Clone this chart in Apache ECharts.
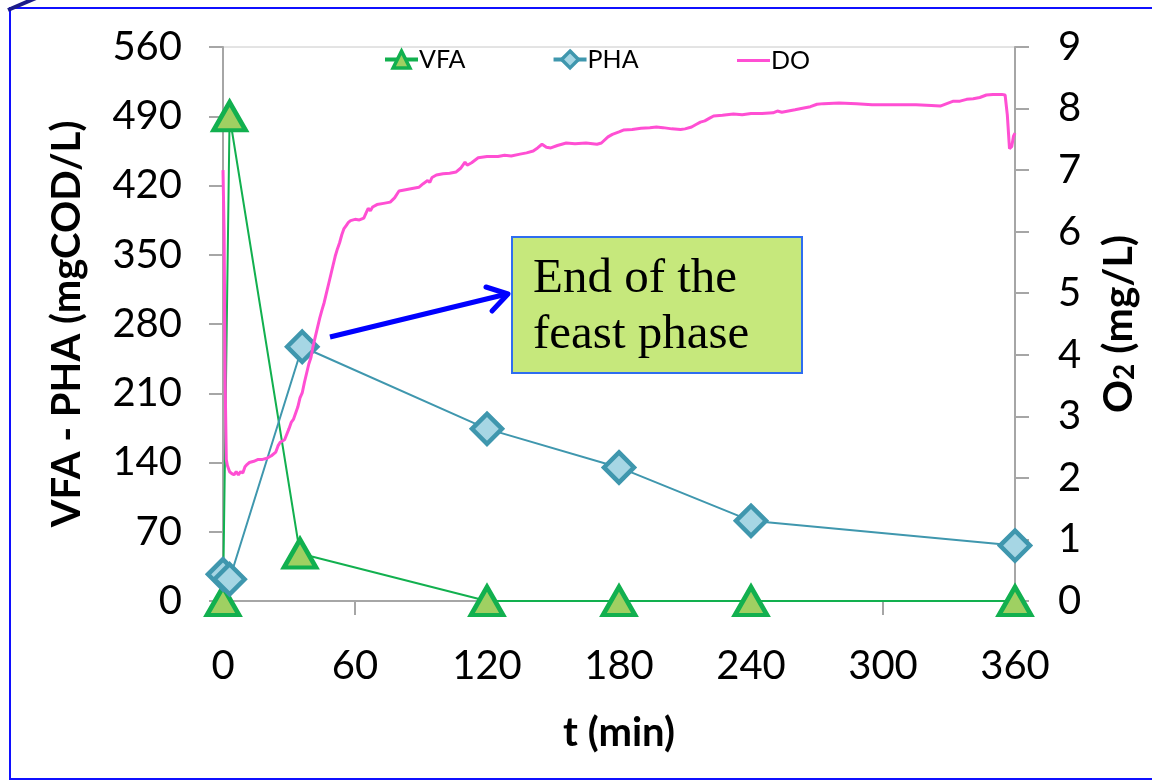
<!DOCTYPE html>
<html>
<head>
<meta charset="utf-8">
<script src="https://cdn.jsdelivr.net/npm/echarts@6/dist/echarts.min.js"></script>
<style>
  html, body { margin: 0; padding: 0; background: #ffffff; }
  #chart { width: 1152px; height: 781px; }
</style>
</head>
<body>
<div id="chart"></div>
<script>
// Axis tick values
const timeTicks = [0, 60, 120, 180, 240, 300, 360];
const codTicks = [0, 70, 140, 210, 280, 350, 420, 490, 560];
const o2Ticks = [0, 1, 2, 3, 4, 5, 6, 7, 8, 9];

// VFA and PHA sampling (t in min, mgCOD/L)
const vfaTime = [0, 3, 35, 120, 180, 240, 360];
const vfaValues = [0, 490, 48, 0, 0, 0, 0];
const phaTime = [0, 3, 36, 120, 180, 240, 360];
const phaValues = [27, 22, 257, 174, 135, 81, 56];

// Dissolved oxygen probe record (t in min, mg/L)
const doTime = [0, 0.5, 1, 1.5, 2, 3, 4, 5, 6, 7, 8, 9, 10, 11, 12, 14, 16, 18, 20, 22,
  24, 25, 26, 28, 30, 31, 32, 33, 34, 35, 36, 37, 38, 39, 40, 41, 42, 43, 44, 45,
  46, 47, 48, 49, 50, 51, 52, 53, 54, 55, 56, 57, 58, 60, 62, 64, 65, 66, 67, 68,
  70, 73, 76, 78, 80, 83, 86, 89, 91, 93, 94, 95, 97, 100, 103, 106, 108, 110, 111, 113,
  116, 120, 125, 128, 131, 135, 138, 141, 143, 145, 147, 149, 152, 156, 160, 165, 170, 172, 175, 177,
  180, 182, 186, 190, 194, 197, 200, 204, 208, 210, 213, 215, 217, 219, 221, 223, 227, 232, 236, 240,
  245, 250, 252, 254, 257, 260, 264, 267, 270, 273, 280, 288, 295, 305, 315, 322, 326, 329, 332, 335,
  338, 341, 344, 347, 350, 354, 355.5, 356.5, 357.5, 358.5, 359.3, 360];
const doValues = [7.0, 6.0, 3.5, 2.3, 2.2, 2.1, 2.07, 2.05, 2.1, 2.05, 2.1, 2.08, 2.18, 2.22, 2.25, 2.27, 2.3, 2.3, 2.32, 2.36,
  2.42, 2.52, 2.58, 2.62, 2.8, 2.9, 2.95, 3.05, 3.15, 3.3, 3.38, 3.55, 3.7, 3.85, 3.96, 4.15, 4.3, 4.45, 4.6, 4.73,
  4.85, 5.0, 5.15, 5.3, 5.45, 5.6, 5.72, 5.82, 5.95, 6.05, 6.1, 6.15, 6.18, 6.2, 6.19, 6.22, 6.3, 6.38, 6.34, 6.4,
  6.44, 6.46, 6.48, 6.55, 6.66, 6.68, 6.7, 6.72, 6.78, 6.83, 6.8, 6.88, 6.92, 6.94, 6.95, 6.97, 7.03, 7.13, 7.08, 7.12,
  7.2, 7.22, 7.22, 7.24, 7.23, 7.26, 7.28, 7.31, 7.36, 7.42, 7.37, 7.36, 7.4, 7.44, 7.43, 7.44, 7.42, 7.44, 7.54, 7.58,
  7.62, 7.65, 7.66, 7.68, 7.69, 7.7, 7.69, 7.67, 7.66, 7.67, 7.7, 7.74, 7.78, 7.8, 7.84, 7.88, 7.89, 7.91, 7.9, 7.92,
  7.92, 7.93, 7.96, 7.94, 7.96, 7.98, 8.01, 8.03, 8.07, 8.08, 8.09, 8.08, 8.06, 8.06, 8.06, 8.05, 8.04, 8.08, 8.12, 8.12,
  8.15, 8.16, 8.18, 8.22, 8.23, 8.23, 8.22, 7.9, 7.35, 7.38, 7.55, 7.6];

const zip = (xs, ys) => xs.map((x, i) => [x, ys[i]]);

const FONT = 'Lato';
const AXIS_GREY = '#a6a6a6';
const VFA_LINE = '#12b04f', VFA_FILL = '#9fd062';
const PHA_LINE = '#3f97ae', PHA_FILL = '#a6d6e4';
const DO_LINE = '#ff4fd3';

const chart = echarts.init(document.getElementById('chart'), null, { renderer: 'canvas' });

const labelStyle = { color: '#000', fontFamily: FONT, fontSize: 40 };
const titleStyle = { color: '#000', fontFamily: FONT, fontSize: 40, fontWeight: 'bold' };
const legendText = { fontFamily: FONT, fontSize: 25, color: '#000', padding: [0, 0, 0, -4] };

const axisCommon = {
  axisLine: { show: true, lineStyle: { color: AXIS_GREY, width: 2 } },
  axisTick: { show: true, inside: false, length: 14, lineStyle: { color: AXIS_GREY, width: 2 } },
  splitLine: { show: false }
};

chart.setOption({
  animation: false,
  backgroundColor: '#ffffff',
  grid: {
    left: 223, right: 137, top: 47, bottom: 180,
    show: true, borderColor: '#c8c8c8', borderWidth: 1, backgroundColor: 'transparent'
  },
  legend: [
    {
      top: 42, left: 378,
      itemWidth: 33, itemHeight: 21, itemGap: 86,
      textStyle: legendText,
      lineStyle: { width: 4 },
      itemStyle: { borderWidth: 3.5 },
      data: ['VFA', 'PHA']
    },
    {
      top: 43, left: 732,
      itemWidth: 33, itemHeight: 3,
      icon: 'rect',
      textStyle: legendText,
      data: ['DO']
    }
  ],
  xAxis: Object.assign({
    type: 'value',
    min: timeTicks[0], max: timeTicks[timeTicks.length - 1],
    interval: timeTicks[1] - timeTicks[0],
    name: 't (min)', nameLocation: 'middle', nameGap: 112,
    nameTextStyle: titleStyle,
    axisLabel: Object.assign({ margin: 45 }, labelStyle)
  }, axisCommon),
  yAxis: [
    Object.assign({
      type: 'value', position: 'left',
      min: codTicks[0], max: codTicks[codTicks.length - 1],
      interval: codTicks[1] - codTicks[0],
      name: 'VFA - PHA (mgCOD/L)', nameLocation: 'middle', nameRotate: 90, nameGap: 136,
      nameTextStyle: titleStyle,
      axisLabel: Object.assign({ margin: 41 }, labelStyle)
    }, axisCommon),
    Object.assign({
      type: 'value', position: 'right',
      min: o2Ticks[0], max: o2Ticks[o2Ticks.length - 1],
      interval: o2Ticks[1] - o2Ticks[0],
      name: '{b|O}{s|2}{b| (mg/L)}', nameLocation: 'middle', nameRotate: 90, nameGap: 76,
      nameTextStyle: {
        rich: {
          b: { fontFamily: FONT, fontSize: 41, fontWeight: 'bold', color: '#000', lineHeight: 48, verticalAlign: 'bottom' },
          s: { fontFamily: FONT, fontSize: 28, fontWeight: 'bold', color: '#000', lineHeight: 22, verticalAlign: 'bottom' }
        }
      },
      axisLabel: Object.assign({ margin: 43 }, labelStyle)
    }, axisCommon)
  ],
  series: [
    {
      name: 'VFA', type: 'line', yAxisIndex: 0,
      data: zip(vfaTime, vfaValues),
      symbol: 'triangle', symbolSize: [32, 28],
      itemStyle: { color: VFA_FILL, borderColor: VFA_LINE, borderWidth: 4.5 },
      lineStyle: { color: VFA_LINE, width: 2 },
      emphasis: { disabled: true }, z: 3
    },
    {
      name: 'PHA', type: 'line', yAxisIndex: 0,
      data: zip(phaTime, phaValues),
      symbol: 'diamond', symbolSize: 30,
      itemStyle: { color: PHA_FILL, borderColor: PHA_LINE, borderWidth: 4.5 },
      lineStyle: { color: PHA_LINE, width: 2 },
      emphasis: { disabled: true }, z: 4
    },
    {
      name: 'DO', type: 'line', yAxisIndex: 1,
      data: zip(doTime, doValues),
      symbol: 'none', showSymbol: false,
      itemStyle: { color: DO_LINE },
      lineStyle: { color: DO_LINE, width: 3 },
      emphasis: { disabled: true }, z: 5
    }
  ],
  graphic: [
    // frame around the figure
    { type: 'rect', shape: { x: 10, y: 8, width: 1170, height: 771 },
      style: { fill: 'none', stroke: '#1010ff', lineWidth: 2 }, z: 100 },
    { type: 'line', shape: { x1: 8, y1: 10, x2: 36, y2: -2 },
      style: { stroke: '#1c1c8a', lineWidth: 4 }, z: 100 },
    // callout box
    { type: 'rect', shape: { x: 512, y: 237, width: 290, height: 136 },
      style: { fill: '#c6e87c', stroke: '#2e6df0', lineWidth: 2 }, z: 50 },
    { type: 'text', x: 533, y: 251, z: 51,
      style: { text: 'End of the\nfeast phase', fontFamily: 'Liberation Serif', fontSize: 49,
        lineHeight: 56, fill: '#000', verticalAlign: 'top' } },
    // arrow pointing at the callout
    { type: 'line', shape: { x1: 330, y1: 337, x2: 507, y2: 294 },
      style: { stroke: '#0000ff', lineWidth: 5 }, z: 52 },
    { type: 'polyline', shape: { points: [[486, 287], [508, 294], [492, 311]] },
      style: { stroke: '#0000ff', lineWidth: 5, fill: 'none', lineCap: 'round', lineJoin: 'round' }, z: 52 }
  ]
});
</script>
</body>
</html>
